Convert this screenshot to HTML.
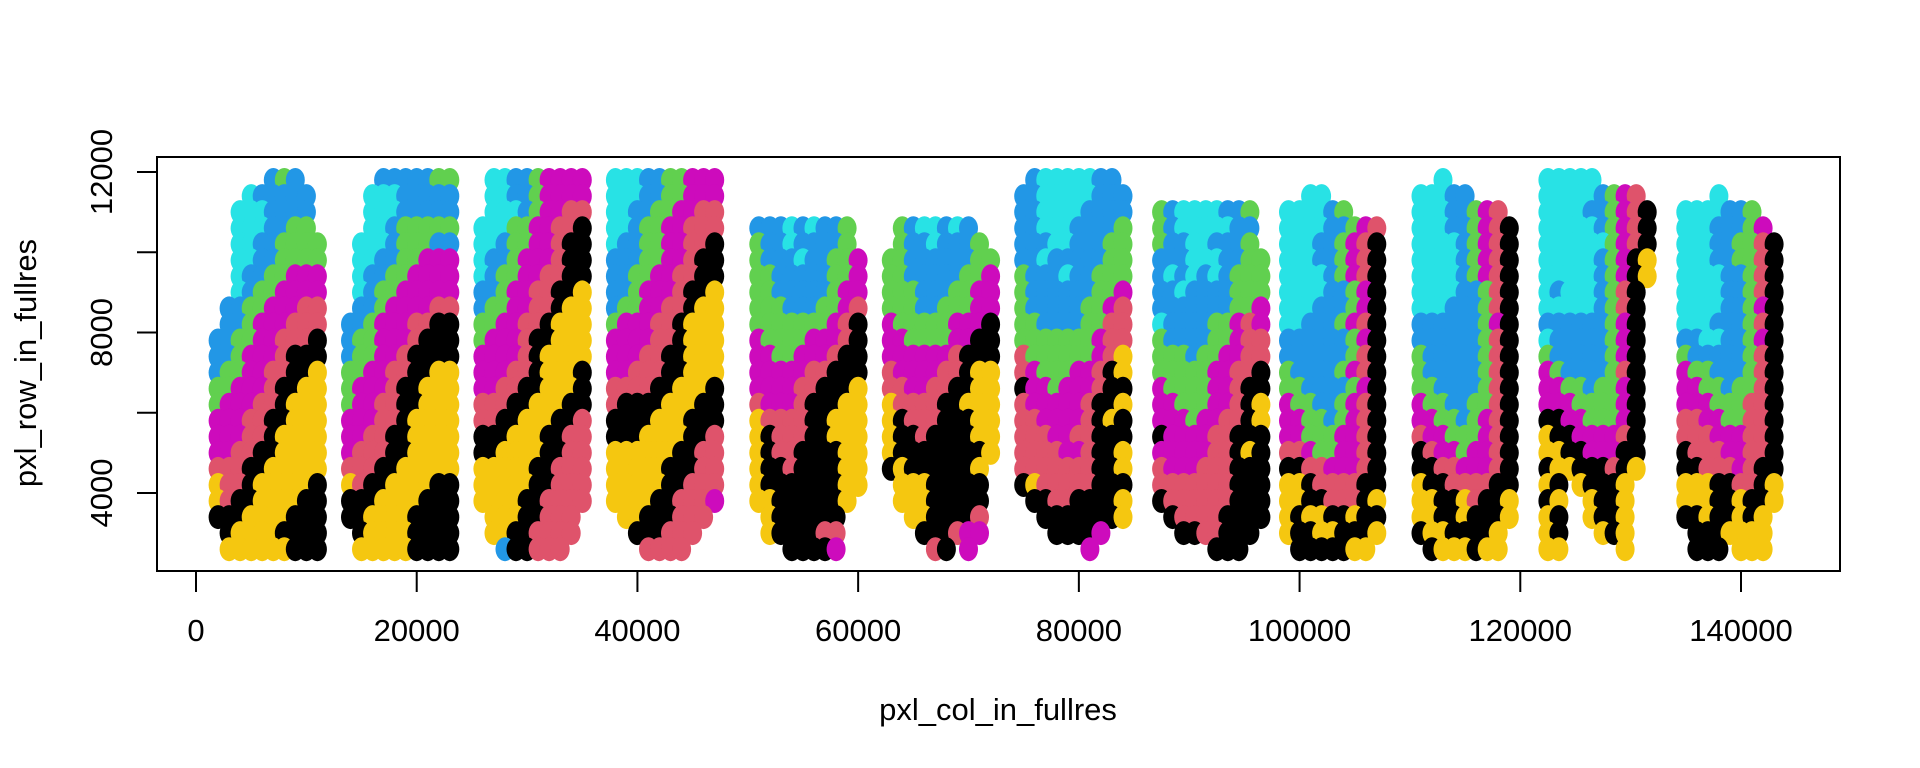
<!DOCTYPE html>
<html><head><meta charset="utf-8">
<style>
html,body{margin:0;padding:0;background:#fff;}
svg{display:block;font-family:"Liberation Sans",Arial,sans-serif;}
</style></head>
<body>
<svg id="chart" width="1920" height="768" viewBox="0 0 1920 768" xmlns="http://www.w3.org/2000/svg">
<g id="dots"></g>
<rect x="157" y="157" width="1683" height="414" fill="none" stroke="#000" stroke-width="2"/>
<g id="axes"></g>
<text x="998" y="720" font-size="31" text-anchor="middle">pxl_col_in_fullres</text>
<text transform="translate(36,363) rotate(-90)" font-size="31" text-anchor="middle">pxl_row_in_fullres</text>
</svg>
<script>
// x ticks / y ticks (data units)
const xTicks = [0, 20000, 40000, 60000, 80000, 100000, 120000, 140000];
const yTicks = [4000, 6000, 8000, 10000, 12000];
const yTickLabels = ["4000", "", "8000", "", "12000"];
// cluster colours
const clusterCodes = ["k","r","g","b","c","m","y"];
const clusterColors = ["#000000","#DF536B","#61D04F","#2297E6","#28E2E5","#CD0BBC","#F5C710"];
// spot grid: left column x (thousands), column step 1000, rows from y=11800 down, step 400
const sectionX0 = [2, 14, 26, 38, 51, 63, 75, 87.5, 99, 111, 122.5, 135];
const sectionGrids = [
[".....bgb..","...cbbbbb.","..cccbbbb.","..cccbbgg.","..ccbbgggg","..ccbbgggg","..cbbggmmm","..cbggmmmm",".bbggmmmrr",".bbgmmmrrr","bbggmmrrrk","bbgmmmrkkk","bggmmrrkky","ggmmmrkkyy","gmmmrrkyyy","mmmrrkkyyy","mmmrrkyyyy","mmrrkkyyyy","rrrkkyyyyy","yrrkyyyyyk","yrkkyyyykk","kkkyyyykkk",".kyyyykkkk",".yyyyyykkk"],
["...bbbbbgg","..cccbbbbb","..cccbbbbb","..ccbggggg",".cccbgggbb",".ccbbggmmm",".cbbggmmmm",".cbggmmmmm",".bbgmmmmrr","bbgmmmrrkk","bggmmmrkkk","bggmmrkkkk","ggmmrrkkyy","gmmmrkkyyy","gmmrrkkyyy","mmmrrkyyyy","mmrrkkyyyy","mrrrkkyyyy","rrrkkyyyyy","yrkkyyyykk","kkkyyyykkk","kkyyyykkkk",".kyyyykkkk",".yyyyykkkk"],
[".ccbbgmmmm",".ccbbgmmmm",".cccbgmmrr","cccggmmrrk","ccbggmmrkk","cbbgmmmrkk","cbggmmrrkk","bbgmmrrkky","bggmmrrkyy","ggmmrrkyyy","gmmmrkkyyy","mmmmrkyyyy","mmmrrkyyyk","mmrrkkyyyk","rrrkkyyykk","rrkkyyykkr","kkkyyykkrr","kkyyyykkrr","yyyyykkrrr","yyyyykkrrr","yyyykkrrrr",".yyykkrrr.",".yykkrrrr.","..bkkrrr.."],
["cccbbggmmm","cccbbggmmm","ccbbggmmrr","ccbggmmrrr","cbbggmmrrk","bbbggmmrkk","bbggmmrrkk","bbgmmmrkky","bggmmrrkyy","gmmmrrkyyy","mmmmrrkyyy","mmmrrkkyyy","mmrrrkkyyy","rrrrkkyyyk","rkkkkyyykk","kkkkyyykkk","kkkyyyykkr","yyyyyykkrr","yyyyykkkrr","yyyyykkrrr","yyyykkrrrm",".yykkkrrr.","..kkkrrr..","...rrrr..."],
["..........","..........","..........","bbbcbcbbg.","gbbcbbbbg.","gbbbcbbggm","ggbbbbbggm","ggbbbbbgmm","gggbbbggmr","gggggggmrk","mggggmmmrk","mmggmmmrkk","mmmmmrrkkk","mmmmrrkkky","rmmmrkkkyy","yrrrrkkyyy","ykrrrkkyyy","ykrrkkkkyy","ykkrkkkkyy","ykkkkkkkyy","yykkkkkky.",".ykkkkkk..",".ykkkkrr..","...kkkkm.."],
["..........","..........","..........",".gbccbcb..",".gbbcbbbg.","ggbbbbbbgg","ggbbbbbggm","gggbbbggmm","gggbbgggmm","mgggggmmmk","mmggggmmkk","mmmmmmrkkk","rmmmmrrkyy","rrmmrrkkyy","yrrrrkkyyy","ykrrrkkkyy","ykkrkkkkyy","ykkkkkkkky","kykkkkkky.",".yyykkkkk.",".yyykkkkk.","..yykkkkr.","...kkkrmm.","....rk.m.."],
[".bcccccbb.","bbcccccbbb","bbccccbbbb","bbcccbbbbg","bbbccbbbgg","bbcbbbbbgg","gbbbcbbggg","gbbbbbbggm","gbbbbbggmr","ggbbbbggrr","gggggggmrr","rggggggmry","rmgggmmrky","kmmgmmmrkk","rmmmmmrkky","rrmmmmrkyk","rrrmmrrkkk","rrrrmmrkky","rrrrrrrkky","kyrrrrrkkk",".kkrrkkkky","..kkkkkkky","...kkkkm..","......m..."],
["..........","..........","gbccccbbg.","gbcccccbb.","gbbccbbbg.","bbbcccbbgg","bcbcbcbggg","bbcbbbbggg","bbbbbbbggm","cbbbbggmrm","gbbbbggmrr","gggbggmmrr","gggggmmrrk","mggggmmrkk","mmgggmmrky","mmmgmmrrky","kmmmmrrkkk","mmmmmrrkyk","rmmmrrrkkk","rrrrrrrkkk","krrrrrrkkk",".krrrrkkkk","..kkrrkkk.",".....kkk.."],
["..........","..cc.....","ccccbg...","ccccbbgmr","cccbbgmrk","cccbbgmrk","ccccbgmrk","ccccbbgmk","cccbbbgmk","ccbbbgmrk","bbbbbbgmk","bbbbbbgrk","gbbbbgmrk","ggbbbbgmk","mggbbgmrk","mmggbgmrk","mmgggmmrk","rrmggmmrk","kkrrmmmrk","yykrrrrkk","yykkrrrky","ykyykkykk","ykkyykkky",".kkkkkyy."],
["..c......","cccbb....","cccbbgmr.","cccbbgmrk","ccccbgmrk","ccccbgmrk","ccccbgmrk","ccccbbgrk","cccbbbgrk","bbbbbbgmk","bbbbbbgrk","gbbbbbgrk","gbbbbbgrk","ggbbbbgrk","mggbbggrk","mmggbgmrk","rmmgggmrk","krmmgmmrk","kkrrmmmrk","ykkrrrrkk","yykkyrkky","yykkykkky","kyykkkky.",".kyyykyy."],
["ccccc.....","cccccbgmr.","ccccbbgmrk","cccccbgmrk","ccccccgmrk","cccccbgmky","cccccbgmky","cbcccbgrk.","cccccbgrk.","bbbbbbgmk.","cbbbbbgmk.","gbbbbbgmk.","mgbbbbgrk.","mmggbggmk.","mmmggggmk.","kkmmgggmk.","ykkmmmmrk.","yykkmmmkk.","kyykkkrky.","yk.ykkky..","ky..ykky..","yk..ykky..","yk...yky..","yy.....y.."],
[".........","...c.....","ccccbbg..","cccbbbgm.","cccbbggrk","cccbbggrk","ccccbbgrk","ccccbbgrk","ccccbbgmk","cccbbbgrk","bbccbbgmk","gbbbbbgrk","mggbbbgrk","mmggbggrk","mmmgggrrk","rrmmggrrk","rrrmmmrrk","krrrmmrrk","kkrrrmrkk","yyykkrrky","yyykkykky","kkykkyky.",".kkkyyyy.",".kkk.yyy."]
];

// axis functions
const X = v => 196 + (v - 0) * (1545 / 140000);
const Y = v => 172 + (12000 - v) * (321 / 8000);
const NS = "http://www.w3.org/2000/svg";
const dots = document.getElementById('dots');
const axes = document.getElementById('axes');

sectionGrids.forEach((grid, s) => {
  const g = document.createElementNS(NS, 'g');
  
  
  grid.forEach((row, i) => {
    for (let j = 0; j < row.length; j++) {
      const code = row[j];
      const ci = clusterCodes.indexOf(code);
      if (ci < 0) continue;
      const xv = (sectionX0[s] + j) * 1000;
      const yv = 11800 - 400 * i;
      const c = document.createElementNS(NS, 'ellipse');
      
      
      c.setAttribute('cx', X(xv).toFixed(1));
      c.setAttribute('cy', Y(yv).toFixed(1));
      c.setAttribute('rx', '9.5');
      c.setAttribute('ry', '12');
      c.setAttribute('fill', clusterColors[ci]);
      g.appendChild(c);
    }
  });
  dots.appendChild(g);
});

xTicks.forEach(t => {
  const x = X(t);
  const l = document.createElementNS(NS, 'line');
  
  
  l.setAttribute('x1', x); l.setAttribute('x2', x);
  l.setAttribute('y1', 571); l.setAttribute('y2', 592);
  l.setAttribute('stroke', '#000'); l.setAttribute('stroke-width', '2');
  axes.appendChild(l);
  const tx = document.createElementNS(NS, 'text');
  
  
  tx.setAttribute('x', x); tx.setAttribute('y', 641);
  tx.setAttribute('font-size', '31'); tx.setAttribute('text-anchor', 'middle');
  tx.textContent = String(t);
  axes.appendChild(tx);
});

yTicks.forEach((t, i) => {
  const y = Y(t);
  const l = document.createElementNS(NS, 'line');
  
  
  l.setAttribute('x1', 137); l.setAttribute('x2', 157);
  l.setAttribute('y1', y); l.setAttribute('y2', y);
  l.setAttribute('stroke', '#000'); l.setAttribute('stroke-width', '2');
  axes.appendChild(l);
  if (yTickLabels[i]) {
    const tx = document.createElementNS(NS, 'text');
    
    
    tx.setAttribute('transform', 'translate(112,' + y + ') rotate(-90)');
    tx.setAttribute('font-size', '31'); tx.setAttribute('text-anchor', 'middle');
    tx.textContent = yTickLabels[i];
    axes.appendChild(tx);
  }
});
</script>
</body></html>
